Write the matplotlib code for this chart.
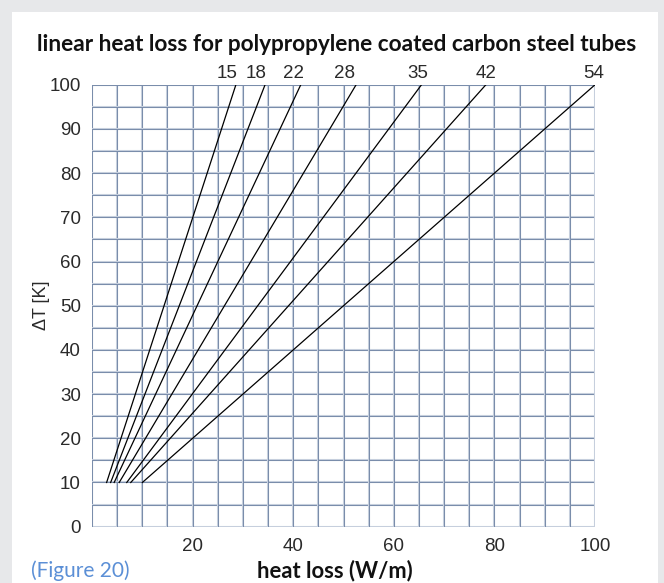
import matplotlib
matplotlib.use("Agg")
import matplotlib.pyplot as plt
from matplotlib.patches import Rectangle

# tube diameters (mm) and their lines: heat loss (W/m) at dT = 10 K and 100 K
diameters = ["15", "18", "22", "28", "35", "42", "54"]
loss_at_10 = [2.9, 3.7, 4.4, 5.4, 6.9, 7.7, 10.0]
loss_at_100 = [28.6, 34.4, 41.5, 52.5, 65.5, 78.3, 100.0]
dt_range = [10, 100]

x_ticks = [20, 40, 60, 80, 100]
y_ticks = list(range(0, 101, 10))

# label nudge left of the line end (data units)
label_nudge = [1.8, 1.7, 1.5, 2.3, 0.7, 0.0, 0.3]

GRID = "#7a8dab"

fig = plt.figure(figsize=(6.64, 5.83), dpi=100)
fig.patch.set_facecolor("#e7e8ea")
panel = Rectangle((12 / 664, 0), 646 / 664, 571 / 583, transform=fig.transFigure,
                  facecolor="white", edgecolor="none", zorder=-5)
fig.add_artist(panel)

ax = fig.add_axes([0.1386, 0.0966, 0.7575, 0.758])
ax.set_zorder(2)
ax.set_facecolor("white")
ax.set_xlim(0, 100)
ax.set_ylim(0, 100)

# grid every 5 units (light halo + darker core)
for v in range(0, 101, 5):
    ax.axvline(v, color="#c8d1de", lw=1.5, zorder=1)
    ax.axhline(v, color="#c8d1de", lw=1.5, zorder=1)
    ax.axvline(v, color=GRID, lw=0.75, zorder=1)
    ax.axhline(v, color=GRID, lw=0.75, zorder=1)

for name, x0, x1, nud in zip(diameters, loss_at_10, loss_at_100, label_nudge):
    ax.plot([x0, x1], dt_range, color="black", lw=0.9, zorder=3)
    ax.text(x1 - nud, 101.6, name, ha="center", va="baseline",
            fontsize=13.5, family="Liberation Sans", color="#2a2a2a")

for s in ax.spines.values():
    s.set_visible(False)
ax.tick_params(length=0, pad=8, labelsize=13.5, colors="#2a2a2a")
ax.set_xticks(x_ticks)
ax.set_yticks(y_ticks)
for lab in ax.get_xticklabels() + ax.get_yticklabels():
    lab.set_family("Liberation Sans")

ax.set_ylabel("ΔT [K]", fontsize=13, family="Liberation Sans", color="#2a2a2a")
ax.yaxis.set_label_coords(-0.083, 0.5)

fig.text(337 / 664, 1 - 44.5 / 583, "linear heat loss for polypropylene coated carbon steel tubes",
         ha="center", va="center", fontsize=16.3, fontweight="bold", family="Lato",
         color="#111111")
fig.text(335 / 664, 1 - 571 / 583, "heat loss (W/m)", ha="center", va="center",
         fontsize=15.8, fontweight="bold", family="Lato", color="#111111")
fig.text(31 / 664, 1 - 571 / 583, "(Figure 20)", ha="left", va="center",
         fontsize=15, family="Lato", color="#5b8fd6")

fig.savefig("out.png", dpi=100, facecolor=fig.get_facecolor())
